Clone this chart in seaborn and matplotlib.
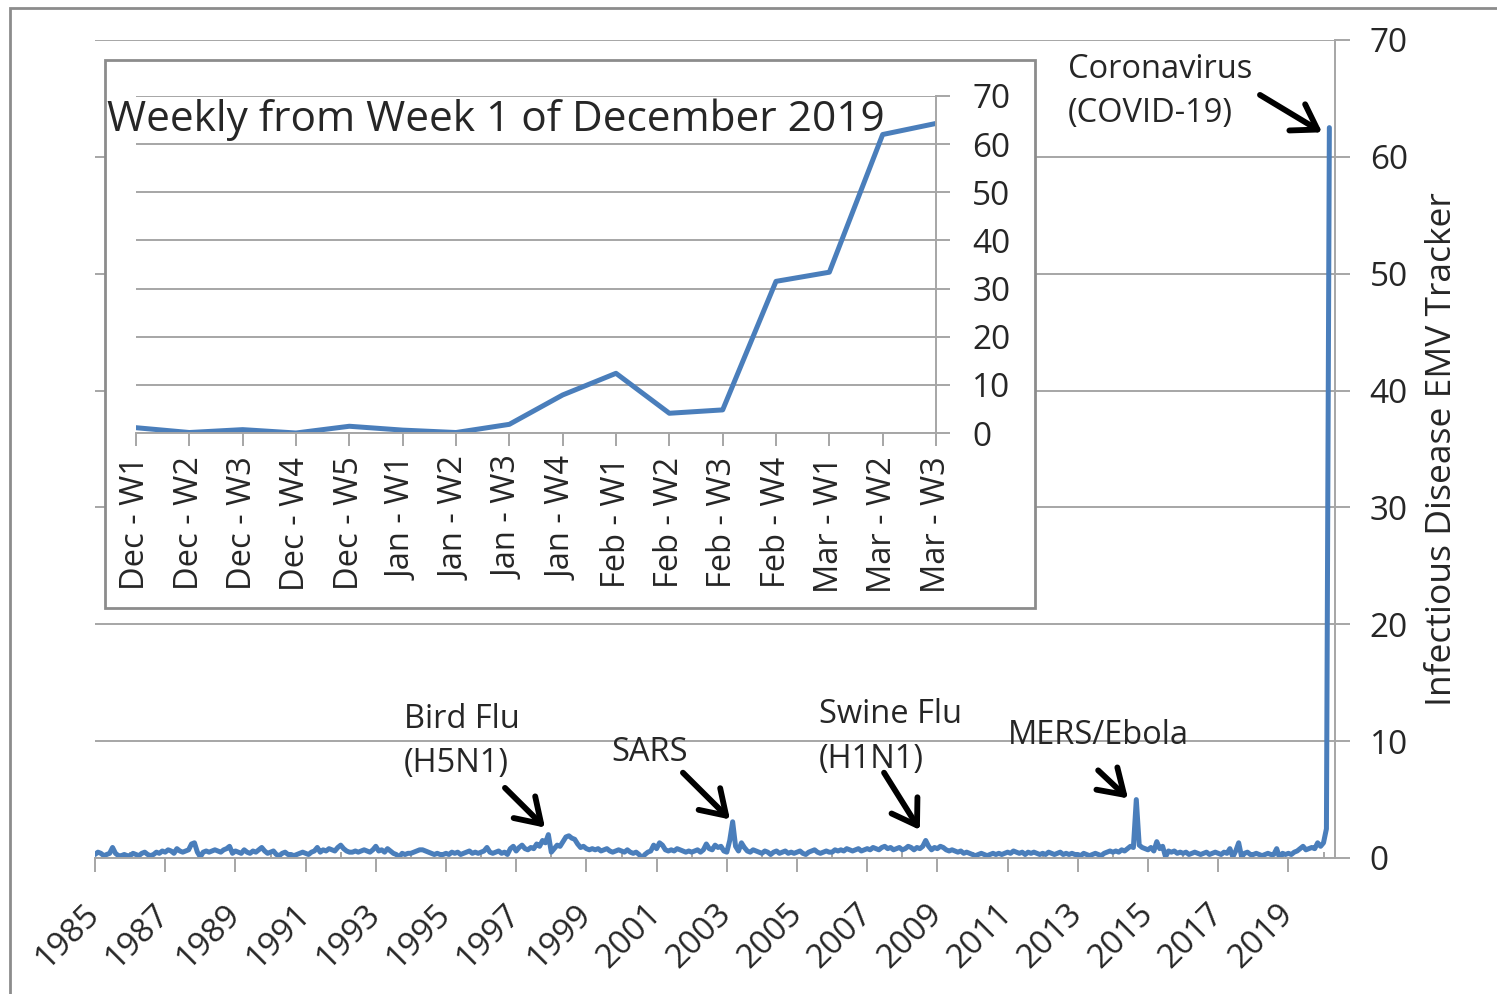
import numpy as np
import pandas as pd
import matplotlib.pyplot as plt
import seaborn as sns
from matplotlib.patches import Rectangle

sns.set_style("white")
plt.rcParams["font.family"] = ["Open Sans", "DejaVu Sans"]

# Monthly tracker values, Jan 1985 .. Mar 2020
monthly = {
    1985: [0.3, 0.5, 0.4, 0.2, 0.3, 0.4, 0.9, 0.4, 0.2, 0.2, 0.3, 0.2],
    1986: [0.2, 0.4, 0.3, 0.2, 0.4, 0.5, 0.3, 0.2, 0.3, 0.5, 0.4, 0.6],
    1987: [0.5, 0.7, 0.6, 0.4, 0.8, 0.6, 0.5, 0.6, 0.7, 1.2, 1.3, 0.5],
    1988: [0.1, 0.5, 0.6, 0.5, 0.6, 0.7, 0.6, 0.5, 0.7, 0.8, 1.0, 0.4],
    1989: [0.6, 0.5, 0.4, 0.7, 0.5, 0.4, 0.6, 0.5, 0.7, 0.9, 0.6, 0.4],
    1990: [0.5, 0.6, 0.3, 0.2, 0.4, 0.5, 0.3, 0.3, 0.2, 0.3, 0.4, 0.5],
    1991: [0.4, 0.3, 0.5, 0.6, 0.9, 0.5, 0.7, 0.6, 0.8, 0.7, 0.6, 0.9],
    1992: [1.1, 0.8, 0.6, 0.5, 0.5, 0.6, 0.5, 0.6, 0.7, 0.6, 0.5, 0.7],
    1993: [1.0, 0.6, 0.7, 0.5, 0.8, 0.6, 0.4, 0.3, 0.1, 0.4, 0.3, 0.4],
    1994: [0.4, 0.5, 0.6, 0.7, 0.7, 0.6, 0.5, 0.4, 0.3, 0.4, 0.3, 0.3],
    1995: [0.4, 0.3, 0.5, 0.4, 0.5, 0.3, 0.4, 0.5, 0.6, 0.4, 0.5, 0.4],
    1996: [0.5, 0.6, 0.9, 0.5, 0.4, 0.5, 0.6, 0.4, 0.5, 0.3, 0.8, 1.0],
    1997: [0.6, 0.9, 1.1, 0.8, 0.7, 0.9, 0.8, 1.2, 1.0, 1.5, 1.3, 2.0],
    1998: [0.5, 0.8, 1.1, 1.0, 1.4, 1.8, 1.9, 1.7, 1.6, 1.2, 0.9, 1.0],
    1999: [0.8, 0.7, 0.8, 0.7, 0.8, 0.6, 0.7, 0.8, 0.6, 0.5, 0.6, 0.7],
    2000: [0.6, 0.5, 0.7, 0.5, 0.4, 0.5, 0.3, 0.0, 0.3, 0.5, 0.6, 1.1],
    2001: [0.8, 1.3, 1.1, 0.7, 0.6, 0.7, 0.6, 0.8, 0.7, 0.6, 0.5, 0.6],
    2002: [0.5, 0.6, 0.7, 0.5, 0.7, 1.2, 0.8, 0.7, 1.1, 0.9, 1.0, 0.6],
    2003: [0.5, 1.5, 3.1, 1.0, 0.6, 1.3, 0.9, 0.6, 0.5, 0.7, 0.6, 0.5],
    2004: [0.4, 0.6, 0.5, 0.3, 0.5, 0.6, 0.4, 0.5, 0.6, 0.4, 0.5, 0.4],
    2005: [0.5, 0.6, 0.4, 0.3, 0.5, 0.6, 0.7, 0.5, 0.4, 0.5, 0.6, 0.5],
    2006: [0.5, 0.7, 0.6, 0.7, 0.6, 0.8, 0.7, 0.6, 0.7, 0.8, 0.6, 0.7],
    2007: [0.8, 0.7, 0.9, 0.8, 0.7, 0.9, 1.0, 0.8, 0.9, 0.7, 0.8, 0.9],
    2008: [0.7, 0.8, 1.0, 0.9, 0.7, 0.9, 0.8, 1.0, 1.5, 1.0, 0.7, 0.9],
    2009: [0.8, 1.0, 0.9, 0.7, 0.6, 0.7, 0.6, 0.5, 0.6, 0.4, 0.5, 0.4],
    2010: [0.3, 0.2, 0.3, 0.4, 0.3, 0.2, 0.3, 0.4, 0.3, 0.4, 0.3, 0.4],
    2011: [0.5, 0.4, 0.6, 0.5, 0.4, 0.5, 0.3, 0.5, 0.4, 0.5, 0.4, 0.3],
    2012: [0.4, 0.3, 0.5, 0.4, 0.3, 0.4, 0.5, 0.3, 0.4, 0.3, 0.4, 0.3],
    2013: [0.3, 0.2, 0.4, 0.3, 0.2, 0.3, 0.4, 0.3, 0.2, 0.4, 0.5, 0.6],
    2014: [0.5, 0.6, 0.5, 0.7, 0.6, 0.8, 1.0, 0.9, 5.0, 1.1, 0.9, 0.8],
    2015: [0.7, 0.9, 0.6, 1.4, 0.8, 1.0, 0.1, 0.6, 0.5, 0.6, 0.4, 0.5],
    2016: [0.4, 0.5, 0.3, 0.4, 0.5, 0.4, 0.3, 0.4, 0.5, 0.3, 0.4, 0.5],
    2017: [0.4, 0.3, 0.5, 0.4, 0.8, 0.1, 0.6, 1.3, 0.1, 0.4, 0.5, 0.3],
    2018: [0.3, 0.4, 0.3, 0.2, 0.3, 0.4, 0.3, 0.3, 0.8, 0.0, 0.4, 0.3],
    2019: [0.4, 0.3, 0.5, 0.6, 0.8, 1.0, 0.7, 0.8, 0.9, 0.8, 1.3, 1.0],
    2020: [1.3, 2.5, 62.5],
}

# Weekly inset, from week 1 of December 2019
week_labels = ["Dec - W1", "Dec - W2", "Dec - W3", "Dec - W4", "Dec - W5",
               "Jan - W1", "Jan - W2", "Jan - W3", "Jan - W4",
               "Feb - W1", "Feb - W2", "Feb - W3", "Feb - W4",
               "Mar - W1", "Mar - W2", "Mar - W3"]
weekly = [1.1, 0.1, 0.7, 0.0, 1.4, 0.6, 0.1, 1.8, 7.9, 12.4, 4.1, 4.8,
          31.5, 33.4, 62.0, 64.3]

year_ticks = list(range(1985, 2020, 2))
y_ticks = list(range(0, 71, 10))

# (label, text x, text y, arrow tail, arrow tip) in data units
events = [
    ("Coronavirus\n(COVID-19)", 2012.72, 65.6, (2018.19, 65.3), (2019.96, 62.1)),
    ("Bird Flu\n(H5N1)", 1993.80, 10.0, (1996.68, 6.0), (1997.82, 2.6)),
    ("SARS", 1999.70, 9.0, (2001.75, 7.3), (2003.09, 3.3)),
    ("Swine Flu\n(H1N1)", 2005.63, 10.35, (2007.48, 7.3), (2008.50, 2.4)),
    ("MERS/Ebola", 2011.01, 10.45, (2013.58, 7.5), (2014.43, 5.1)),
]

rows = []
for yr, vals in monthly.items():
    for m, v in enumerate(vals):
        rows.append((yr + m / 12, v))
df = pd.DataFrame(rows, columns=["date", "value"])

blue = "#4a7ebb"
grid_c = "#a6a6a6"
W, H = 1497, 994

fig = plt.figure(figsize=(W / 100, H / 100), dpi=100)

# main chart
ax = fig.add_axes([95 / W, 1 - 858 / H, (1335 - 95) / W, (858 - 40) / H])
sns.lineplot(data=df, x="date", y="value", ax=ax, color=blue, linewidth=3.6)
ax.set_xlim(1985, 1985 + (1335 - 95) / 35.1)
ax.set_ylim(0, 70)
ax.set_yticks(y_ticks)
ax.set_xticks(year_ticks)
ax.set_xticks(list(range(1986, 2021, 2)), minor=True)
ax.set_xticklabels([str(y) for y in year_ticks], rotation=45, ha="right",
                   va="center", rotation_mode="anchor")
ax.yaxis.tick_right()
ax.yaxis.set_label_position("right")
ax.grid(axis="y", color=grid_c, linewidth=1.4)
for s in ["left", "top"]:
    ax.spines[s].set_visible(False)
for s in ["right", "bottom"]:
    ax.spines[s].set_color(grid_c)
    ax.spines[s].set_linewidth(1.4)
ax.tick_params(axis="y", which="major", direction="out", length=11, width=1.4,
               color=grid_c, labelsize=24, pad=14, right=True, left=False)
ax.tick_params(axis="x", which="major", direction="out", length=10, width=1.4,
               color=grid_c, labelsize=24, pad=27, bottom=True)
ax.tick_params(axis="x", which="minor", direction="in", length=4, width=1.4,
               color=grid_c, bottom=True)
ax.set_xlabel("")
ax.set_ylabel("Infectious Disease EMV Tracker", fontsize=25.5, labelpad=12)

for label, tx, ty, tail, tip in events:
    ax.text(tx, ty, label, fontsize=23.5, ha="left", va="center", linespacing=1.45)
    ax.annotate("", xy=tip, xytext=tail,
                arrowprops=dict(arrowstyle="->,head_length=0.85,head_width=0.55",
                                lw=4.2, color="black", shrinkA=0, shrinkB=0,
                                mutation_scale=20))

# outer chart border
fig.patches.append(Rectangle((10 / W, -0.1), 2, 1.1 - 8 / H, transform=fig.transFigure,
                             fill=False, edgecolor="#8c8c8c", lw=2, zorder=0))

# inset frame
fig.patches.append(Rectangle((105 / W, 1 - 608 / H), 930 / W, 548 / H,
                             transform=fig.transFigure, facecolor="white",
                             edgecolor="#8c8c8c", lw=2, zorder=1))

inset = fig.add_axes([136 / W, 1 - 433 / H, (936 - 136) / W, (433 - 96) / H], zorder=2)
inset.patch.set_alpha(0)
sns.lineplot(x=week_labels, y=weekly, ax=inset, color=blue, linewidth=3.6, sort=False)
inset.set_xlim(0, len(week_labels) - 1)
inset.set_ylim(0, 70)
inset.set_yticks(y_ticks)
inset.yaxis.tick_right()
inset.grid(axis="y", color=grid_c, linewidth=1.4)
for s in ["left", "top"]:
    inset.spines[s].set_visible(False)
for s in ["right", "bottom"]:
    inset.spines[s].set_color(grid_c)
    inset.spines[s].set_linewidth(1.4)
inset.tick_params(axis="y", direction="out", length=10, width=1.4, color=grid_c,
                  labelsize=24, pad=16, right=True, left=False)
inset.tick_params(axis="x", direction="out", length=9, width=1.4, color=grid_c,
                  labelsize=23.5, pad=8, bottom=True, labelrotation=90)
inset.set_xlabel("")
inset.set_ylabel("")

fig.text(107 / W, 1 - 131 / H, "Weekly from Week 1 of December 2019",
         fontsize=30.5, ha="left", va="baseline", zorder=3)

fig.savefig("out.png", dpi=100)
